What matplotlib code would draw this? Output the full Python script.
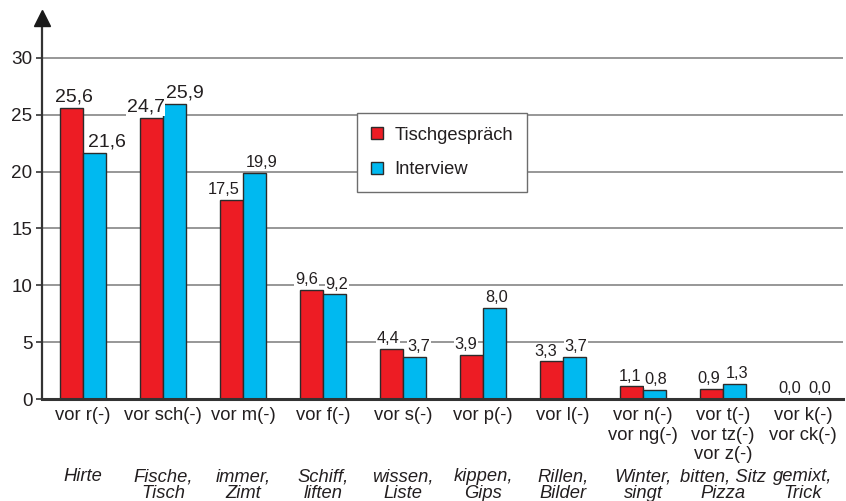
import matplotlib
matplotlib.use("Agg")
import matplotlib.pyplot as plt
from matplotlib.transforms import blended_transform_factory
from matplotlib.patches import Patch
import numpy as np

plt.rcParams['font.family'] = ['Liberation Sans', 'DejaVu Sans']

# --- data -------------------------------------------------------------
categories = ["vor r(-)", "vor sch(-)", "vor m(-)", "vor f(-)", "vor s(-)",
              "vor p(-)", "vor l(-)", "vor n(-)\nvor ng(-)",
              "vor t(-)\nvor tz(-)\nvor z(-)", "vor k(-)\nvor ck(-)"]
examples = ["Hirte", "Fische,\nTisch", "immer,\nZimt", "Schiff,\nliften",
            "wissen,\nListe", "kippen,\nGips", "Rillen,\nBilder",
            "Winter,\nsingt", "bitten, Sitz\nPizza", "gemixt,\nTrick"]
tischgespraech = [25.6, 24.7, 17.5, 9.6, 4.4, 3.9, 3.3, 1.1, 0.9, 0.0]
interview = [21.6, 25.9, 19.9, 9.2, 3.7, 8.0, 3.7, 0.8, 1.3, 0.0]
series_names = ["Tischgespräch", "Interview"]
yticks = [0, 5, 10, 15, 20, 25, 30]

# --- style ------------------------------------------------------------
RED = "#ED1C24"
BLUE = "#00B9F0"
EDGE = "#2b2b2b"
TXT = "#231f20"
GRID = "#7a7a7a"

# horizontal nudges (pixels) for the value labels, red / blue
red_dx = [2, -6, -8, -5, -3.5, -5.5, -5.5, -1.5, -2.5, -1.5]
blue_dx = [12, 10, 7.5, 2.5, 4.5, 2, 1.5, 1.5, 3, 5.5]
label_sizes = [14, 14, 11.8, 11.8, 11.8, 11.8, 11.8, 11.8, 11.8, 11.8]

W, H = 846, 501
fig = plt.figure(figsize=(W / 100, H / 100), dpi=100)
ax_left, ax_right, ax_bottom, ax_top = 42, 843, 399, 18
ax = fig.add_axes([ax_left / W, (H - ax_bottom) / H,
                   (ax_right - ax_left) / W, (ax_bottom - ax_top) / H])

x = np.arange(len(categories))
bw = 0.2875
ax.set_xlim(-0.5125, 9.5)
ax.set_ylim(0, 33.5)

ax.yaxis.grid(True, color=GRID, linewidth=1.1, zorder=0)
ax.set_axisbelow(True)

bars_r = ax.bar(x - bw / 2, tischgespraech, bw, color=RED, edgecolor=EDGE,
                linewidth=1.0, zorder=3)
bars_b = ax.bar(x + bw / 2, interview, bw, color=BLUE, edgecolor=EDGE,
                linewidth=1.0, zorder=3)

for i in range(len(x)):
    for bars, vals, dx in ((bars_r, tischgespraech, red_dx),
                           (bars_b, interview, blue_dx)):
        v = vals[i]
        b = bars[i]
        ax.annotate(f"{v:.1f}".replace(".", ","),
                    xy=(b.get_x() + b.get_width() / 2, v),
                    xytext=(dx[i] * 0.72, 2.0), textcoords="offset points",
                    ha="center", va="bottom", fontsize=label_sizes[i],
                    color=TXT, zorder=4,
                    bbox=dict(facecolor="white", edgecolor="none", pad=0.6))

# axes styling
for s in ("top", "right"):
    ax.spines[s].set_visible(False)
ax.spines["left"].set_color("#333333")
ax.spines["left"].set_linewidth(1.6)
ax.spines["bottom"].set_color("#333333")
ax.spines["bottom"].set_linewidth(2.2)
ax.spines["bottom"].set_zorder(5)

ax.set_yticks(yticks)
ax.set_yticklabels([str(t) for t in yticks], fontsize=13.6, color=TXT)
ax.tick_params(axis="y", length=4, width=1.2, color="#333333", pad=3)

ax.set_xticks(x)
ax.set_xticklabels(categories, fontsize=13.2, color=TXT, linespacing=1.18)
ax.tick_params(axis="x", length=0, pad=6)

# arrow head on the value axis
ax.plot([0], [1.0], marker="^", markersize=11, color="#1a1a1a",
        transform=ax.transAxes, clip_on=False, zorder=6)

# example words under the categories
trans = blended_transform_factory(ax.transData, ax.transAxes)
ax_h = ax_bottom - ax_top
for xi, ex in zip(x, examples):
    ax.text(xi, -(468 - ax_bottom) / ax_h, ex, transform=trans,
            ha="center", va="top", fontsize=13.2, style="italic",
            color=TXT, linespacing=1.0)

# legend
handles = [Patch(facecolor=RED, edgecolor=EDGE, linewidth=1.0),
           Patch(facecolor=BLUE, edgecolor=EDGE, linewidth=1.0)]
leg = fig.legend(handles, series_names, loc="upper left",
                 bbox_to_anchor=(357 / W, 1 - 113 / H),
                 fontsize=13.2, frameon=True, fancybox=False,
                 handlelength=0.65, handleheight=0.65, handletextpad=0.65,
                 labelspacing=0.95, borderpad=0.75, borderaxespad=0)
frame = leg.get_frame()
frame.set_edgecolor("#6d6d6d")
frame.set_linewidth(1.0)
frame.set_facecolor("white")
frame.set_alpha(1)
for t in leg.get_texts():
    t.set_color(TXT)

fig.savefig("out.png", dpi=100)
